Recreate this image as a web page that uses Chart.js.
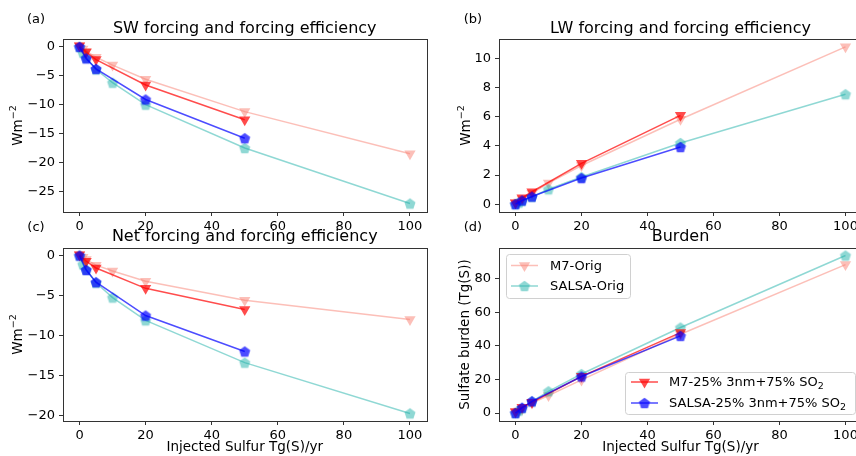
<!DOCTYPE html>
<html><head><meta charset="utf-8">
<script src="https://cdn.jsdelivr.net/npm/chart.js@4"></script>
<style>
html,body{margin:0;padding:0;background:#fff;width:856px;height:456px;overflow:hidden;position:relative;}
canvas{position:absolute;left:0;top:0;}
.pl{position:absolute;font:13px "DejaVu Sans";color:#000;transform:translate(-50%,-50%);white-space:nowrap;}
</style></head><body>
<canvas id="ca" width="870" height="456"></canvas>
<canvas id="cb" width="870" height="456"></canvas>
<canvas id="cc" width="870" height="456"></canvas>
<canvas id="cd" width="870" height="456"></canvas>
<div class="pl" style="left:36px;top:18px">(a)</div>
<div class="pl" style="left:473px;top:18px">(b)</div>
<div class="pl" style="left:36px;top:226px">(c)</div>
<div class="pl" style="left:473px;top:226px">(d)</div>
<script>
// ---------------- data ----------------
const xOrig = [0, 1, 2, 5, 10, 20, 50, 100];
const x25 = [0, 2, 5, 20, 50];
const xTicks = [0, 20, 40, 60, 80, 100];

// legend names: [main text, subscript]
const seriesNames = [['M7-Orig', ''], ['SALSA-Orig', ''], ['M7-25% 3nm+75% SO', '2'], ['SALSA-25% 3nm+75% SO', '2']];

// (a) SW forcing
const swM7Orig = [0.2, -0.35, -0.75, -1.8, -3.15, -5.6, -11.2, -18.5];
const swSalsaOrig = [0, -1.0, -1.9, -3.9, -6.2, -10.0, -17.5, -27.1];
const swM725 = [0.2, -0.9, -2.2, -6.6, -12.6];
const swSalsa25 = [0, -2.0, -3.8, -9.1, -15.8];
const swTicks = [0, -5, -10, -15, -20, -25];

// (b) LW forcing
const lwM7Orig = [0.1, 0.15, 0.35, 0.75, 1.45, 2.65, 5.83, 10.8];
const lwSalsaOrig = [0, 0.1, 0.22, 0.5, 1.02, 1.86, 4.2, 7.55];
const lwM725 = [0.1, 0.43, 0.85, 2.8, 6.1];
const lwSalsa25 = [0, 0.25, 0.52, 1.79, 3.92];
const lwTicks = [0, 2, 4, 6, 8, 10];

// (c) Net forcing
const netM7Orig = [0.1, -0.2, -0.5, -1.2, -1.92, -3.2, -5.58, -8.0];
const netSalsaOrig = [0, -1.1, -1.75, -3.4, -5.25, -8.1, -13.4, -19.75];
const netM725 = [0.1, -0.7, -1.55, -4.1, -6.75];
const netSalsa25 = [0, -1.8, -3.33, -7.5, -12.0];
const netTicks = [0, -5, -10, -15, -20];

// (d) Burden
const bM7Orig = [0.5, 1.2, 2.5, 6, 10.5, 19.8, 47, 88.5];
const bSalsaOrig = [0, 1.5, 3, 7, 13, 23.3, 51, 93.9];
const bM725 = [1, 3.5, 6.5, 21.9, 48];
const bSalsa25 = [0, 3.2, 7, 21.8, 46];
const bTicks = [0, 20, 40, 60, 80];

// ---------------- styles ----------------
const FONT = 'DejaVu Sans';
Chart.defaults.font.family = FONT;
Chart.defaults.font.size = 13;
Chart.defaults.color = '#000';

const colors = ['rgba(250,128,114,0.5)', 'rgba(32,178,170,0.5)', 'rgba(255,0,0,0.7)', 'rgba(0,0,255,0.7)'];

function pentagon(color, r) {
  const s = Math.ceil(2 * r + 2);
  const c = document.createElement('canvas');
  c.width = s; c.height = s;
  const g = c.getContext('2d');
  g.fillStyle = color;
  g.beginPath();
  for (let i = 0; i < 5; i++) {
    const a = -Math.PI / 2 + i * 2 * Math.PI / 5;
    const px = s / 2 + r * Math.cos(a), py = s / 2 + r * Math.sin(a) + r * 0.1;
    if (i === 0) g.moveTo(px, py); else g.lineTo(px, py);
  }
  g.closePath();
  g.fill();
  return c;
}
const markers = [
  {style: 'triangle', rot: 180},
  {style: pentagon(colors[1], 5.8), rot: 0},
  {style: 'triangle', rot: 180},
  {style: pentagon(colors[3], 5.8), rot: 0}
];

function ds(k, xs, ys) {
  return {
    label: seriesNames[k].join(''),
    data: xs.map((x, i) => ({x: x, y: ys[i]})),
    showLine: true,
    borderColor: colors[k],
    backgroundColor: colors[k],
    pointBackgroundColor: colors[k],
    borderWidth: 1.5,
    pointRadius: 6.5,
    pointHoverRadius: 6.5,
    pointBorderWidth: 0,
    pointStyle: markers[k].style,
    pointRotation: markers[k].rot,
    tension: 0,
    fill: false,
    clip: false
  };
}

const frame = {
  id: 'frame',
  afterDatasetsDraw(chart) {
    const {ctx, chartArea: a} = chart;
    ctx.save();
    ctx.strokeStyle = '#333';
    ctx.lineWidth = 1;
    ctx.strokeRect(Math.round(a.left) + 0.5, Math.round(a.top) + 0.5, Math.round(a.right - a.left), Math.round(a.bottom - a.top));
    ctx.restore();
  }
};

// rotated y title with optional superscript (drawn as real text)
function yTitlePlugin(main, sup, cx) {
  return {
    id: 'ytitle',
    afterDraw(chart) {
      const {ctx, chartArea: a} = chart;
      const cy = (a.top + a.bottom) / 2;
      ctx.save();
      ctx.fillStyle = '#000';
      ctx.textBaseline = 'middle';
      ctx.textAlign = 'left';
      ctx.font = '13.5px "' + FONT + '"';
      const w1 = ctx.measureText(main).width;
      ctx.font = '9.5px "' + FONT + '"';
      const w2 = sup ? ctx.measureText(sup).width : 0;
      const tot = w1 + w2;
      ctx.translate(cx, cy);
      ctx.rotate(-Math.PI / 2);
      ctx.font = '13.5px "' + FONT + '"';
      ctx.fillText(main, -tot / 2, 0);
      if (sup) {
        ctx.font = '9.5px "' + FONT + '"';
        ctx.fillText(sup, -tot / 2 + w1, -5);
      }
      ctx.restore();
    }
  };
}

const minus = v => String(v).replace('-', '\u2212');

function makeChart(id, o) {
  const W = 870, H = 456;
  const titleLH = 16 * 1.2;
  const titleTop = o.titleY - titleLH / 2;
  const xH = o.xTitle ? 35 : 20;
  return new Chart(document.getElementById(id), {
    type: 'scatter',
    data: {datasets: o.datasets},
    plugins: [frame, yTitlePlugin(o.yTitle[0], o.yTitle[1], o.yTitleX)].concat(o.plugins || []),
    options: {
      responsive: false,
      animation: false,
      events: [],
      layout: {padding: {left: 0, right: W - o.area.r, top: titleTop, bottom: H - o.area.b - xH}},
      plugins: {
        legend: {display: false},
        tooltip: {enabled: false},
        title: {display: true, text: o.title, color: '#000', fullSize: false,
          font: {size: 16, weight: 'normal', family: FONT},
          padding: {top: 0, bottom: o.area.t - titleTop - titleLH}}
      },
      scales: {
        x: {
          type: 'linear', min: -5, max: 105,
          afterBuildTicks: s => { s.ticks = xTicks.map(v => ({value: v})); },
          afterFit: s => { s.height = xH; },
          ticks: {padding: 3, color: '#000', font: {size: 13}, callback: v => minus(v)},
          grid: {display: true, drawOnChartArea: false, drawTicks: true, tickLength: 4, tickColor: '#333'},
          border: {display: false},
          title: {display: !!o.xTitle, text: o.xTitle || '', color: '#000', font: {size: 13.5}, padding: {top: 0, bottom: 0}}
        },
        y: {
          type: 'linear', min: o.yMin, max: o.yMax,
          afterBuildTicks: s => { s.ticks = o.yTicks.map(v => ({value: v})); },
          afterFit: s => { s.width = o.area.l; },
          ticks: {padding: 4, color: '#000', font: {size: 13}, callback: v => minus(v)},
          grid: {display: true, drawOnChartArea: false, drawTicks: true, tickLength: 4, tickColor: '#333'},
          border: {display: false},
          title: {display: false}
        }
      }
    }
  });
}

function legendPlugin(boxes) {
  return {
    id: 'legends',
    afterDraw(chart) {
      const ctx = chart.ctx;
      ctx.save();
      boxes.forEach(b => {
        ctx.beginPath();
        if (ctx.roundRect) ctx.roundRect(b.x + 0.5, b.y + 0.5, b.w, b.h, 3); else ctx.rect(b.x + 0.5, b.y + 0.5, b.w, b.h);
        ctx.fillStyle = 'rgba(255,255,255,0.8)';
        ctx.fill();
        ctx.strokeStyle = '#d0d0d0';
        ctx.lineWidth = 1;
        ctx.stroke();
        b.items.forEach((k, i) => {
          const y = b.rows[i];
          ctx.beginPath();
          ctx.strokeStyle = colors[k];
          ctx.lineWidth = 1.5;
          ctx.moveTo(b.lx0, y);
          ctx.lineTo(b.lx1, y);
          ctx.stroke();
          ctx.fillStyle = colors[k];
          Chart.helpers.drawPoint(ctx, {pointStyle: markers[k].style, rotation: markers[k].rot, radius: 6.5, borderWidth: 0}, (b.lx0 + b.lx1) / 2, y);
          ctx.fillStyle = '#000';
          ctx.textAlign = 'left';
          ctx.textBaseline = 'middle';
          ctx.font = '13px "' + FONT + '"';
          ctx.fillText(seriesNames[k][0], b.tx, y + 1);
          if (seriesNames[k][1]) {
            const w = ctx.measureText(seriesNames[k][0]).width;
            ctx.font = '9.5px "' + FONT + '"';
            ctx.fillText(seriesNames[k][1], b.tx + w, y + 4.5);
          }
        });
      });
      ctx.restore();
    }
  };
}

makeChart('ca', {
  area: {l: 63, r: 426.5, t: 39, b: 212}, titleY: 29,
  title: 'SW forcing and forcing efficiency', yTitle: ['Wm', '\u22122'], yTitleX: 18.5,
  yMin: -28.56, yMax: 1.36, yTicks: swTicks,
  datasets: [ds(3, x25, swSalsa25), ds(2, x25, swM725), ds(1, xOrig, swSalsaOrig), ds(0, xOrig, swM7Orig)]
});
makeChart('cb', {
  area: {l: 499, r: 862, t: 39, b: 212}, titleY: 29,
  title: 'LW forcing and forcing efficiency', yTitle: ['Wm', '\u22122'], yTitleX: 466.5,
  yMin: -0.54, yMax: 11.34, yTicks: lwTicks,
  datasets: [ds(3, x25, lwSalsa25), ds(2, x25, lwM725), ds(1, xOrig, lwSalsaOrig), ds(0, xOrig, lwM7Orig)]
});
makeChart('cc', {
  area: {l: 63, r: 426.5, t: 248, b: 421}, titleY: 236.5,
  title: 'Net forcing and forcing efficiency', yTitle: ['Wm', '\u22122'], yTitleX: 18.5,
  xTitle: 'Injected Sulfur Tg(S)/yr',
  yMin: -20.7, yMax: 0.95, yTicks: netTicks,
  datasets: [ds(3, x25, netSalsa25), ds(2, x25, netM725), ds(1, xOrig, netSalsaOrig), ds(0, xOrig, netM7Orig)]
});
makeChart('cd', {
  area: {l: 499, r: 862, t: 248, b: 421}, titleY: 236.5,
  title: 'Burden', yTitle: ['Sulfate burden (Tg(S))', ''], yTitleX: 465.5,
  xTitle: 'Injected Sulfur Tg(S)/yr',
  yMin: -4.7, yMax: 98.4, yTicks: bTicks,
  datasets: [ds(3, x25, bSalsa25), ds(2, x25, bM725), ds(1, xOrig, bSalsaOrig), ds(0, xOrig, bM7Orig)],
  plugins: [legendPlugin([
    {x: 506, y: 254, w: 124, h: 44, lx0: 511, lx1: 538, tx: 550, rows: [265.5, 286], items: [0, 1]},
    {x: 625, y: 372, w: 230, h: 42, lx0: 631, lx1: 658, tx: 669, rows: [382, 403], items: [2, 3]}
  ])]
});
</script>
</body></html>
